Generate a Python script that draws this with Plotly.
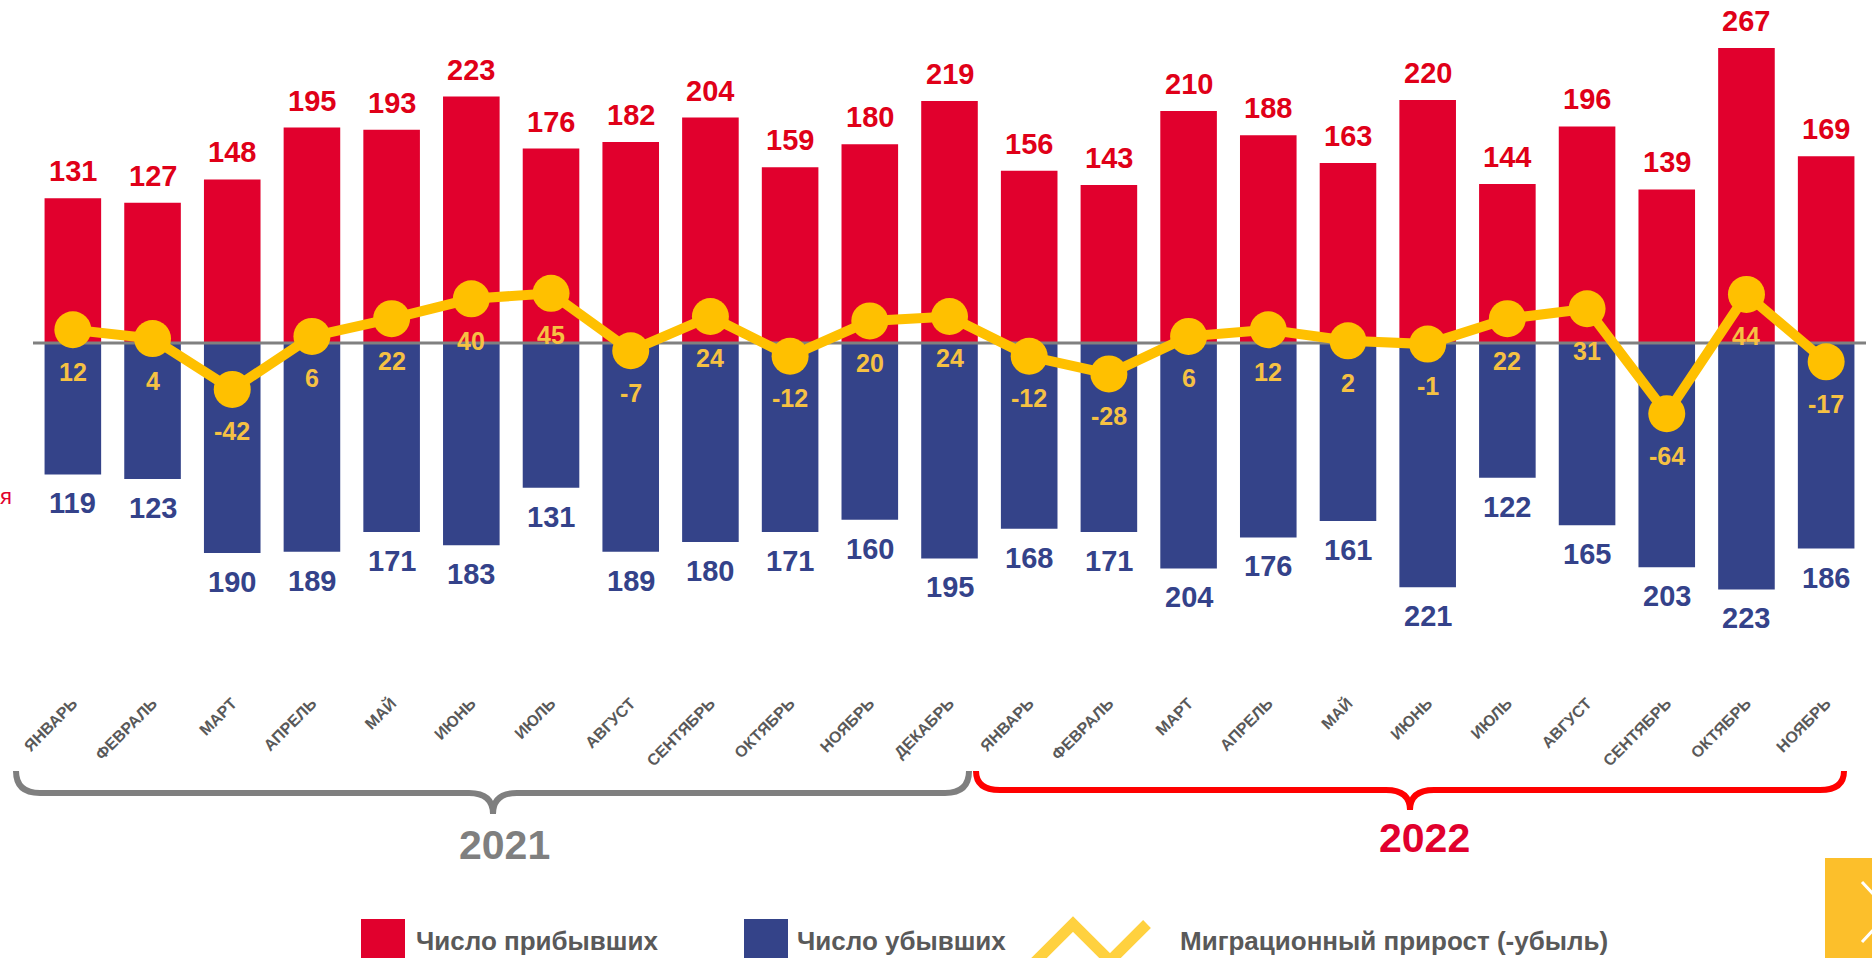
import plotly.graph_objects as go

months_2021 = ["ЯНВАРЬ", "ФЕВРАЛЬ", "МАРТ", "АПРЕЛЬ", "МАЙ", "ИЮНЬ", "ИЮЛЬ",
               "АВГУСТ", "СЕНТЯБРЬ", "ОКТЯБРЬ", "НОЯБРЬ", "ДЕКАБРЬ"]
months_2022 = ["ЯНВАРЬ", "ФЕВРАЛЬ", "МАРТ", "АПРЕЛЬ", "МАЙ", "ИЮНЬ", "ИЮЛЬ",
               "АВГУСТ", "СЕНТЯБРЬ", "ОКТЯБРЬ", "НОЯБРЬ"]
months = months_2021 + months_2022

arrived = [131, 127, 148, 195, 193, 223, 176, 182, 204, 159, 180, 219,
           156, 143, 210, 188, 163, 220, 144, 196, 139, 267, 169]
departed = [119, 123, 190, 189, 171, 183, 131, 189, 180, 171, 160, 195,
            168, 171, 204, 176, 161, 221, 122, 165, 203, 223, 186]
net = [12, 4, -42, 6, 22, 40, 45, -7, 24, -12, 20, 24,
       -12, -28, 6, 12, 2, -1, 22, 31, -64, 44, -17]

legend_labels = ["Число прибывших", "Число убывших", "Миграционный прирост (-убыль)"]
years = ["2021", "2022"]

RED = "#E1002D"
BLUE = "#344389"
YEL = "#FFC000"
GRAY_TXT = "#595959"
FONT = "Arial, Liberation Sans, sans-serif"

x = list(range(len(months)))

# plot area in pixels
L, R, T, B = 33, 1866, 10, 680
W, H = R - L, B - T


def px(v):
    return (v - L) / W


def py(v):
    return (B - v) / H


fig = go.Figure()
fig.add_trace(go.Bar(x=x, y=arrived, marker=dict(color=RED, line=dict(width=0)),
                     name=legend_labels[0], showlegend=False))
fig.add_trace(go.Bar(x=x, y=[-d for d in departed], marker=dict(color=BLUE, line=dict(width=0)),
                     name=legend_labels[1], showlegend=False))
fig.add_trace(go.Scatter(x=[-0.5, len(months) - 0.5], y=[0, 0], mode="lines",
                         line=dict(color="#808080", width=3), showlegend=False,
                         hoverinfo="skip"))
fig.add_trace(go.Scatter(x=x, y=net, mode="lines+markers",
                         line=dict(color=YEL, width=10),
                         marker=dict(color=YEL, size=37),
                         name=legend_labels[2], showlegend=False))

ann = []
for i in x:
    ann.append(dict(x=i, y=arrived[i], text=f"<b>{arrived[i]}</b>", showarrow=False,
                    yanchor="bottom", yshift=9,
                    font=dict(family=FONT, size=29, color="#E00018")))
    ann.append(dict(x=i, y=-departed[i], text=f"<b>{departed[i]}</b>", showarrow=False,
                    yanchor="top", yshift=-11,
                    font=dict(family=FONT, size=29, color="#34428A")))
    ann.append(dict(x=i, y=net[i], text=f"<b>{net[i]}</b>", showarrow=False,
                    yanchor="middle", yshift=-42,
                    font=dict(family=FONT, size=25, color="#F6C143")))

# year labels
ann.append(dict(xref="paper", yref="paper", x=px(505), y=py(845), text=f"<b>{years[0]}</b>",
                showarrow=False, xanchor="center", yanchor="middle",
                font=dict(family=FONT, size=41, color="#7F7F7F")))
ann.append(dict(xref="paper", yref="paper", x=px(1424), y=py(838), text=f"<b>{years[1]}</b>",
                showarrow=False, xanchor="center", yanchor="middle",
                font=dict(family=FONT, size=41, color="#E1002D")))

# legend texts
for lx, t in zip([414, 795, 1178], legend_labels):
    ann.append(dict(xref="paper", yref="paper", x=px(lx), y=py(941), text=f"<b>{t}</b>",
                    showarrow=False, xanchor="left", yanchor="middle",
                    font=dict(family=FONT, size=26, color=GRAY_TXT)))

# clipped text at left edge
ann.append(dict(xref="paper", yref="paper", x=px(-2), y=py(496), text="я",
                showarrow=False, xanchor="left", yanchor="middle",
                font=dict(family=FONT, size=22, color="#E1002D")))


def brace(x0, x1, xc, ytop, yline, ytip, r=24):
    pts = (f"M {px(x0)},{py(ytop)} Q {px(x0)},{py(yline)} {px(x0 + r)},{py(yline)} "
           f"L {px(xc - r)},{py(yline)} Q {px(xc)},{py(yline)} {px(xc)},{py(ytip)} "
           f"Q {px(xc)},{py(yline)} {px(xc + r)},{py(yline)} "
           f"L {px(x1 - r)},{py(yline)} Q {px(x1)},{py(yline)} {px(x1)},{py(ytop)}")
    return pts


shapes = [
    dict(type="path", xref="paper", yref="paper", path=brace(16, 969, 493, 771, 793, 814),
         line=dict(color="#7F7F7F", width=6)),
    dict(type="path", xref="paper", yref="paper", path=brace(976, 1844, 1410, 771, 790, 810),
         line=dict(color="#FF0000", width=6)),
    # legend markers
    dict(type="rect", xref="paper", yref="paper", x0=px(361), x1=px(405), y0=py(919), y1=py(966),
         fillcolor=RED, line=dict(width=0)),
    dict(type="rect", xref="paper", yref="paper", x0=px(744), x1=px(788), y0=py(919), y1=py(966),
         fillcolor=BLUE, line=dict(width=0)),
    dict(type="path", xref="paper", yref="paper",
         path=(f"M {px(1029)},{py(968)} L {px(1073)},{py(924)} L {px(1110)},{py(961)} "
               f"L {px(1147)},{py(924)}"),
         line=dict(color="#FFD13F", width=11)),
    # navigation button bottom-right
    dict(type="rect", xref="paper", yref="paper", x0=px(1825), x1=px(1880), y0=py(858), y1=py(966),
         fillcolor="#FCBF2B", line=dict(width=0)),
    dict(type="path", xref="paper", yref="paper",
         path=f"M {px(1862)},{py(882)} L {px(1890)},{py(912)} L {px(1862)},{py(942)}",
         line=dict(color="white", width=3)),
]

fig.update_layout(
    width=1872, height=958,
    margin=dict(l=L, r=1872 - R, t=T, b=958 - B),
    paper_bgcolor="white", plot_bgcolor="white",
    barmode="relative", bargap=0.29,
    showlegend=False,
    annotations=ann, shapes=shapes,
    xaxis=dict(range=[-0.5, len(months) - 0.5], tickmode="array", tickvals=x, ticktext=months,
               tickangle=-45, showgrid=False, zeroline=False, showline=False, ticks="",
               ticklabelstandoff=10,
               tickfont=dict(family=FONT, size=16, color=GRAY_TXT, weight="bold"),
               fixedrange=True),
    yaxis=dict(range=[-305, 301.4], showgrid=False, zeroline=False, showline=False,
               showticklabels=False, ticks="", fixedrange=True),
)

fig.write_html("out.html", config={"displayModeBar": False},
               post_script="document.body.style.margin='0';document.body.style.overflow='hidden';")
